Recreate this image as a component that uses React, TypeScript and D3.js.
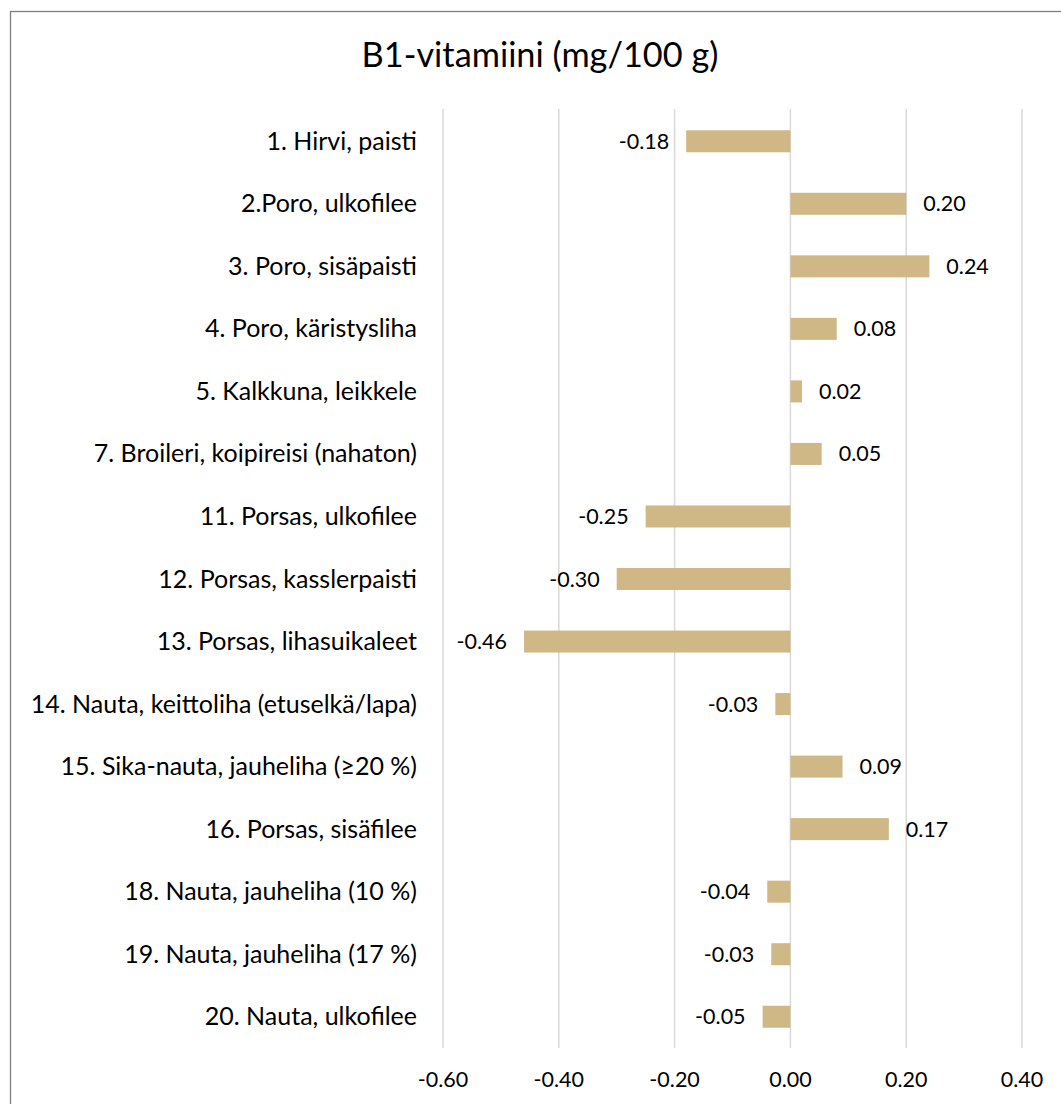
import React from "react";
import * as d3 from "d3";

const title = "B1-vitamiini (mg/100 g)";
const categories = [
  "1. Hirvi, paisti",
  "2.Poro, ulkofilee",
  "3. Poro, sisäpaisti",
  "4. Poro, käristysliha",
  "5. Kalkkuna, leikkele",
  "7. Broileri, koipireisi (nahaton)",
  "11. Porsas, ulkofilee",
  "12. Porsas, kasslerpaisti",
  "13. Porsas, lihasuikaleet",
  "14. Nauta, keittoliha (etuselkä/lapa)",
  "15. Sika-nauta, jauheliha (≥20 %)",
  "16. Porsas, sisäfilee",
  "18. Nauta, jauheliha (10 %)",
  "19. Nauta, jauheliha (17 %)",
  "20. Nauta, ulkofilee",
];
const values = [
  -0.18, 0.2, 0.24, 0.08, 0.02, 0.054, -0.25, -0.3, -0.46, -0.026, 0.09, 0.17,
  -0.04, -0.033, -0.048,
];
const ticks = [-0.6, -0.4, -0.2, 0.0, 0.2, 0.4];

const W = 1061;
const H = 1104;
const FONT = "Lato, 'Open Sans', sans-serif";

export default function App() {
  const x = d3.scaleLinear().domain([-0.6, 0.4]).range([443, 1022]);
  const y = d3
    .scaleBand<string>()
    .domain(categories)
    .range([110, 1048])
    .paddingInner(0.648)
    .paddingOuter(0.324);
  const bh = y.bandwidth();
  return (
    <svg
      width={W}
      height={H}
      style={{ position: "absolute", left: 0, top: 0, background: "#fff" }}
      fontFamily={FONT}
    >
      <rect x={10.5} y={11.5} width={W + 20} height={H + 20} fill="#fff" stroke="#7f7f7f" strokeWidth={1.3} />
      <text x={540} y={67} textAnchor="middle" fontSize={34.3} fill="#000">
        {title}
      </text>
      {ticks.map((t) => (
        <g key={t}>
          <line x1={x(t)} x2={x(t)} y1={109} y2={1048} stroke="#d9d9d9" strokeWidth={1.5} />
          <text x={x(t)} y={1087} textAnchor="middle" fontSize={21.5} fill="#000">
            {t.toFixed(2)}
          </text>
        </g>
      ))}
      {categories.map((c, i) => {
        const v = values[i];
        const y0 = y(c)!;
        const cy = y0 + bh / 2;
        const x0 = Math.min(x(0), x(v));
        const w = Math.abs(x(v) - x(0));
        return (
          <g key={c}>
            <text x={417} y={cy + 8.5} textAnchor="end" fontSize={25} fill="#000">
              {c}
            </text>
            <rect x={x0} y={y0} width={w} height={bh} fill="#cfb886" />
            <text
              x={v >= 0 ? x(v) + 17 : x(v) - 17}
              y={cy + 7.5}
              textAnchor={v >= 0 ? "start" : "end"}
              fontSize={21.5}
              fill="#000"
            >
              {v.toFixed(2)}
            </text>
          </g>
        );
      })}
    </svg>
  );
}
